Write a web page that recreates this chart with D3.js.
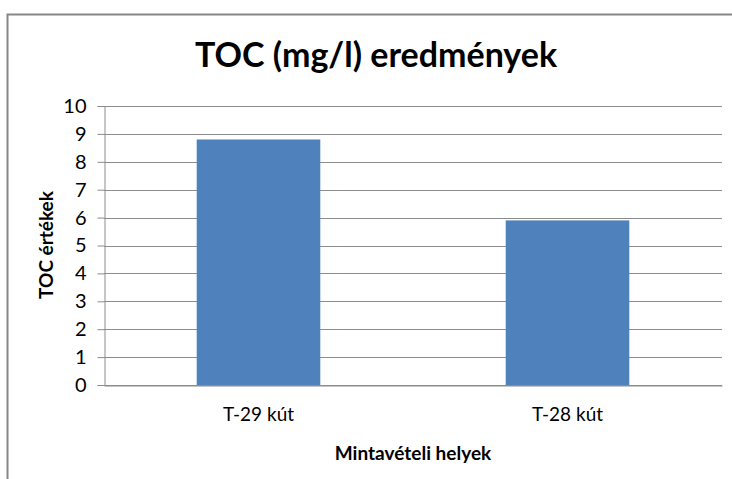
<!DOCTYPE html>
<html>
<head>
<meta charset="utf-8">
<script src="https://cdn.jsdelivr.net/npm/d3@7"></script>
<style>
  body { margin: 0; background: #fff; }
  text { font-family: Lato, "Liberation Sans", sans-serif; fill: #000; }
</style>
</head>
<body>
<div id="chart"></div>
<script>
// chart values
var sites = ["T-29 kút", "T-28 kút"];
var tocValues = [8.8, 5.9];
var yTicks = [0, 1, 2, 3, 4, 5, 6, 7, 8, 9, 10];

var svgWidth = 732;
var svgHeight = 479;

var margin = { top: 106, right: 10, bottom: 94, left: 104 };
var width = 722 - margin.left;
var height = 385 - margin.top;

var svg = d3.select("#chart")
  .append("svg")
  .attr("width", svgWidth)
  .attr("height", svgHeight);

// chart border (left and top visible)
svg.append("path")
  .attr("d", "M7.5,479 V14.5 H732")
  .attr("fill", "none")
  .attr("stroke", "#878787")
  .attr("stroke-width", 2);

var chartGroup = svg.append("g")
  .attr("transform", `translate(${margin.left}, ${margin.top})`);

var xScale = d3.scaleBand()
  .domain(sites)
  .range([0, width])
  .paddingInner(0.6)
  .paddingOuter(0.3);

var yScale = d3.scaleLinear()
  .domain([0, 10])
  .range([height, 0]);

// gridlines
chartGroup.append("g")
  .selectAll("line")
  .data(yTicks)
  .enter()
  .append("line")
  .attr("x1", 0)
  .attr("x2", width)
  .attr("y1", d => Math.round(yScale(d)) + 0.5)
  .attr("y2", d => Math.round(yScale(d)) + 0.5)
  .attr("stroke", "#8c8c8c")
  .attr("stroke-width", 1);

// bars
chartGroup.append("g")
  .selectAll("rect")
  .data(tocValues)
  .enter()
  .append("rect")
  .attr("x", (d, i) => xScale(sites[i]))
  .attr("y", d => yScale(d))
  .attr("width", xScale.bandwidth())
  .attr("height", d => height - yScale(d))
  .attr("fill", "#4f81bd");

// y axis
var leftAxis = d3.axisLeft(yScale)
  .tickValues(yTicks)
  .tickSize(7)
  .tickPadding(11)
  .tickFormat(d3.format("d"));

var yAxisG = chartGroup.append("g")
  .attr("transform", "translate(0.5, 0)")
  .call(leftAxis);
yAxisG.select(".domain").attr("stroke", "#8c8c8c");
yAxisG.selectAll(".tick line").attr("stroke", "#8c8c8c");
yAxisG.selectAll(".tick text")
  .attr("font-size", "20px")
  .attr("font-family", "Lato, sans-serif")
  .attr("fill", "#000");

// x axis
var bottomAxis = d3.axisBottom(xScale)
  .tickSize(0)
  .tickPadding(22);

var xAxisG = chartGroup.append("g")
  .attr("transform", `translate(0, ${height + 0.5})`)
  .call(bottomAxis);
xAxisG.select(".domain").attr("stroke", "#8c8c8c");
xAxisG.selectAll(".tick text")
  .attr("font-size", "19px")
  .attr("font-family", "Lato, sans-serif")
  .attr("fill", "#000");

// title
svg.append("text")
  .attr("x", 376)
  .attr("y", 67)
  .attr("text-anchor", "middle")
  .attr("font-size", "34px")
  .attr("font-weight", "bold")
  .text("TOC (mg/l) eredmények");

// axis titles
svg.append("text")
  .attr("transform", "translate(53, 245) rotate(-90)")
  .attr("text-anchor", "middle")
  .attr("font-size", "19px")
  .attr("font-weight", "bold")
  .text("TOC értékek");

svg.append("text")
  .attr("x", 413)
  .attr("y", 460)
  .attr("text-anchor", "middle")
  .attr("font-size", "19px")
  .attr("font-weight", "bold")
  .text("Mintavételi helyek");
</script>
</body>
</html>
